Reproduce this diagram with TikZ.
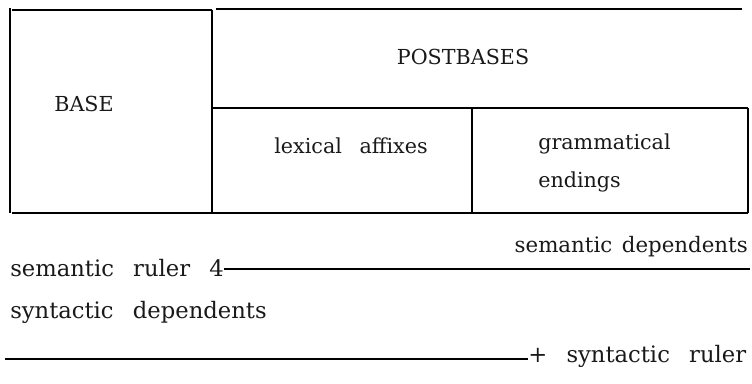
\documentclass[tikz,border=0pt]{standalone}
\usepackage{fontspec}
\setmainfont{DejaVu Serif}
\usetikzlibrary{positioning}

\newcommand{\wgap}{\hspace{0.85em}}

\tikzset{
  rule/.style={line width=1.6pt},
  lbl/.style={inner sep=0pt, font=\fontsize{15.5}{20}\selectfont, text=black!90},
  big/.style={lbl, font=\fontsize{17}{20}\selectfont}
}

\begin{document}
\begin{tikzpicture}[x=0.75pt, y=-0.75pt]
        \useasboundingbox (0,0) rectangle (752,383);
        \draw[rule] (10,8) -- (10,213);
        \draw[rule] (12,10) -- (212,10);
        \draw[rule] (216,9) -- (742,9);
        \draw[rule] (212,10) -- (212,213);
        \draw[rule] (212,108) -- (748,108);
        \draw[rule] (472,108) -- (472,213);
        \draw[rule] (748,108) -- (748,213);
        \draw[rule] (12,213) -- (748,213);
        \node[lbl] (base) at (84,104) {BASE};
        \node[lbl] (postb) at (463,57) {POSTBASES};
        \node[lbl] (lexaff) at (351,146) {lexical\wgap affixes};
        \node[lbl, anchor=west, align=left, font=\fontsize{15.5}{28}\selectfont] (gramend) at (538,163) {grammatical\\endings};
        \node[lbl, anchor=east, font=\fontsize{16}{20}\selectfont] (semdep) at (748,247) {semantic\hspace{0.45em}dependents};
        \node[big, anchor=west] (semrul) at (10,268) {semantic\wgap ruler\wgap 4};
        \coordinate (semend) at (750,262);
        \draw[rule] ([yshift=-1pt]semrul.east) -- ([yshift=-1pt]semrul.east -| semend);
        \node[big, anchor=west] (syndep) at (10,312) {syntactic\wgap dependents};
        \node[big, anchor=west] (synrul) at (528,356) {+\wgap syntactic\wgap ruler};
        \coordinate (synstart) at (5,359);
        \draw[rule] (synstart) -- (synstart -| synrul.west);
      \end{tikzpicture}
\end{document}
